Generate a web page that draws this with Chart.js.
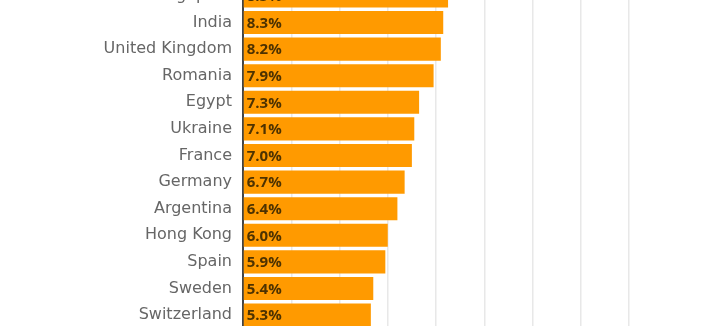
<!DOCTYPE html>
<html>
<head>
<meta charset="utf-8">
<script src="https://cdn.jsdelivr.net/npm/chart.js@4"></script>
<style>
  html, body { margin: 0; padding: 0; background: #fff; }
  #wrap { position: relative; width: 712px; height: 326px; overflow: hidden; }
  #box { position: absolute; left: 0; top: -38px; width: 712px; height: 387px; }
</style>
</head>
<body>
<div id="wrap"><div id="box"><canvas id="chart"></canvas></div></div>
<script>
const countries = ["Singapore", "India", "United Kingdom", "Romania", "Egypt", "Ukraine", "France",
  "Germany", "Argentina", "Hong Kong", "Spain", "Sweden", "Switzerland"];
const shares = [8.5, 8.3, 8.2, 7.9, 7.3, 7.1, 7.0, 6.7, 6.4, 6.0, 5.9, 5.4, 5.3];
const axisMax = 16;
const axisStep = 2;

const valueLabels = {
  id: "valueLabels",
  afterDatasetsDraw(chart) {
    const ctx = chart.ctx;
    const meta = chart.getDatasetMeta(0);
    ctx.save();
    ctx.font = "bold 15px 'Open Sans', sans-serif";
    ctx.fillStyle = "#4d3200";
    ctx.textAlign = "left";
    ctx.textBaseline = "middle";
    meta.data.forEach((bar, i) => {
      ctx.fillText(shares[i].toFixed(1) + "%", bar.base + 3, bar.y + 1);
    });
    ctx.restore();
  }
};

new Chart(document.getElementById("chart"), {
  type: "bar",
  data: {
    labels: countries,
    datasets: [{
      data: shares,
      backgroundColor: "#ff9a00",
      borderWidth: 0,
      barPercentage: 0.87,
      categoryPercentage: 1
    }]
  },
  options: {
    indexAxis: "y",
    responsive: true,
    maintainAspectRatio: false,
    animation: false,
    layout: { padding: { left: 0, right: 83, top: 0, bottom: 0 } },
    plugins: { legend: { display: false }, tooltip: { enabled: false } },
    scales: {
      x: {
        min: 0,
        max: axisMax,
        ticks: { display: false, stepSize: axisStep },
        grid: { color: "#e8e8e8", lineWidth: 1.5, drawTicks: false },
        border: { display: false }
      },
      y: {
        afterFit(scale) { scale.width = 243; },
        ticks: { color: "#666", padding: 11, font: { family: "'DejaVu Sans', sans-serif", size: 16 } },
        grid: { display: false, drawTicks: false },
        border: { color: "#444", width: 2 }
      }
    }
  },
  plugins: [valueLabels]
});
</script>
</body>
</html>
